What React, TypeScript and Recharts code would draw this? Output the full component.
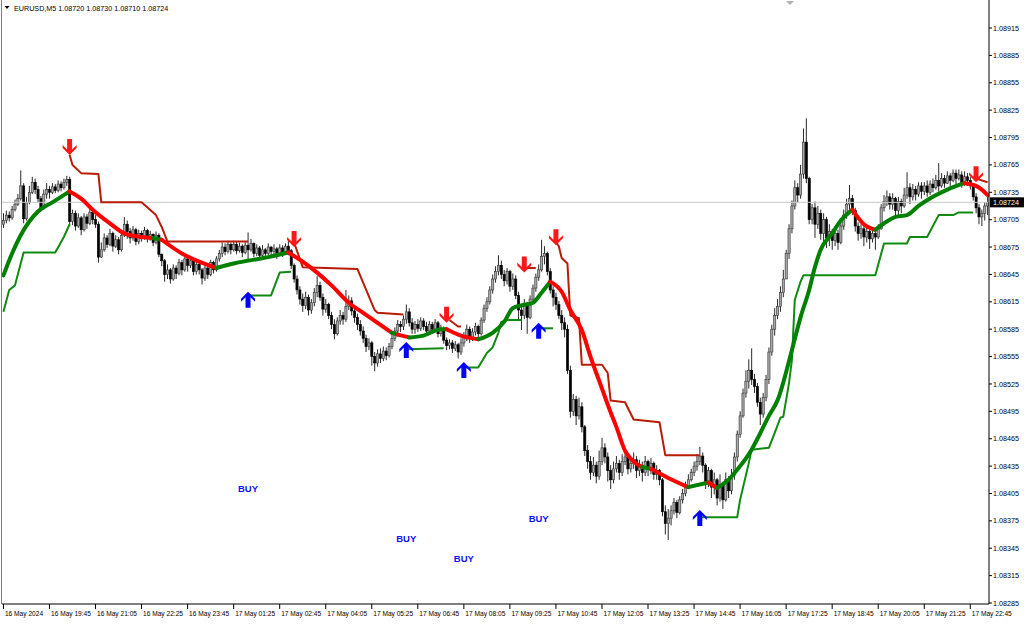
import React from 'react';
import { ComposedChart, Bar, Line, XAxis, YAxis, ReferenceLine, ReferenceDot } from 'recharts';

// prices in points above 1.08000 (1 pt = 0.00001)
const FIRST_OPEN = 700;
const CLOSE = [
  704, 710, 707, 716, 722, 728, 742, 706, 724, 735, 746, 738, 728, 718, 733, 738,
  735, 741, 737, 744, 740, 746, 749, 703, 712, 698, 707, 694, 708, 701, 713, 705,
  700, 664, 672, 685, 678, 690, 676, 683, 672, 688, 700, 692, 685, 694, 681, 690,
  686, 693, 684, 689, 680, 688, 667, 660, 645, 650, 640, 652, 646, 658, 650, 662,
  655, 660, 648, 656, 650, 641, 652, 645, 658, 650, 662, 668, 675, 670, 678, 672,
  678, 671, 676, 669, 677, 672, 679, 668, 674, 666, 672, 668, 675, 670, 673, 668,
  674, 669, 676, 671, 655, 640, 628, 618, 611, 620, 606, 614, 625, 633, 620, 607,
  612, 600, 590, 580, 594, 600, 596, 610, 616, 605, 598, 590, 583, 575, 566, 570,
  555, 548, 558, 553, 561, 556, 566, 575, 583, 590, 588, 596, 604, 592, 585, 590,
  586, 594, 588, 583, 590, 585, 592, 580, 586, 573, 567, 570, 564, 568, 560, 570,
  578, 585, 575, 582, 588, 580, 595, 608, 615, 628, 640, 648, 655, 645, 638, 648,
  632, 640, 622, 606, 600, 612, 598, 618, 630, 642, 650, 665, 668, 648, 628, 620,
  612, 600, 592, 585, 540, 495, 508, 490, 500, 478, 452, 440, 428, 436, 424, 440,
  455, 445, 430, 420, 432, 438, 428, 440, 445, 432, 438, 442, 430, 436, 428, 440,
  432, 438, 426, 430, 420, 385, 372, 378, 386, 395, 384, 398, 405, 412, 420, 428,
  435, 440, 446, 436, 418, 430, 412, 420, 400, 415, 398, 420, 408, 425, 445, 470,
  490, 515, 528, 540, 530, 522, 505, 492, 510, 530, 560, 585, 600, 610, 625, 640,
  668, 695, 720, 740, 732, 755, 790, 750, 705, 718, 700, 712, 690, 705, 685, 692,
  682, 690, 680, 698, 710, 722, 728, 715, 698, 690, 695, 686, 692, 684, 690, 686,
  695, 718, 725, 730, 722, 728, 715, 725, 720, 732, 740, 730, 738, 733, 742, 736,
  742, 735, 744, 740, 748, 742, 750, 745, 753, 748, 756, 750, 754, 746, 752, 748,
  742, 730, 718, 708, 712, 720, 724,
];
const HIGH = [
  712, 715, 714, 720, 727, 733, 759, 745, 730, 742, 752, 750, 742, 731, 738, 745,
  742, 745, 744, 748, 747, 750, 753, 752, 716, 715, 712, 709, 712, 711, 718, 716,
  710, 703, 680, 690, 688, 695, 692, 688, 686, 692, 708, 704, 696, 698, 696, 694,
  693, 697, 695, 693, 690, 692, 690, 668, 662, 656, 652, 656, 655, 662, 661, 666,
  664, 665, 662, 660, 658, 652, 656, 654, 661, 660, 665, 672, 680, 679, 682, 680,
  682, 681, 680, 678, 681, 691, 684, 680, 678, 676, 677, 674, 679, 676, 678, 675,
  678, 677, 679, 682, 673, 657, 644, 632, 624, 626, 623, 618, 630, 643, 637, 624,
  618, 614, 604, 596, 598, 606, 604, 628, 622, 620, 610, 602, 595, 588, 579, 575,
  572, 560, 563, 564, 566, 565, 570, 580, 587, 595, 594, 600, 612, 608, 597, 594,
  596, 598, 597, 593, 594, 593, 596, 594, 590, 588, 576, 574, 573, 572, 570, 575,
  582, 590, 588, 586, 592, 590, 598, 612, 620, 632, 645, 654, 666, 660, 650, 652,
  650, 646, 644, 626, 612, 618, 615, 622, 634, 646, 656, 683, 676, 670, 652, 632,
  625, 616, 606, 598, 590, 545, 514, 512, 510, 505, 480, 458, 446, 445, 440, 452,
  466, 460, 450, 436, 440, 446, 442, 448, 452, 448, 444, 450, 446, 442, 440, 446,
  442, 444, 440, 436, 432, 422, 392, 388, 392, 400, 398, 402, 410, 418, 426, 432,
  440, 448, 456, 450, 438, 434, 432, 428, 422, 426, 418, 428, 424, 432, 450, 474,
  495, 520, 540, 552, 564, 536, 526, 510, 515, 535, 565, 590, 608, 618, 632, 650,
  672, 700, 726, 748, 745, 765, 805, 816, 752, 722, 725, 720, 716, 712, 708, 700,
  695, 698, 694, 702, 716, 728, 743, 732, 718, 702, 700, 698, 700, 694, 696, 694,
  700, 722, 732, 737, 734, 734, 730, 730, 728, 740, 757, 745, 744, 742, 746, 746,
  746, 748, 748, 750, 754, 767, 756, 754, 758, 756, 760, 760, 760, 758, 758, 756,
  752, 745, 734, 722, 716, 724, 730,
];
const LOW = [
  696, 701, 703, 705, 714, 720, 726, 701, 704, 722, 733, 733, 724, 714, 716, 728,
  728, 733, 734, 735, 736, 738, 742, 698, 699, 693, 696, 688, 692, 695, 699, 700,
  696, 658, 663, 670, 674, 676, 670, 674, 667, 670, 686, 684, 679, 682, 677, 678,
  681, 683, 680, 682, 676, 678, 664, 654, 637, 640, 635, 638, 640, 644, 644, 648,
  648, 652, 644, 645, 645, 634, 638, 640, 643, 646, 648, 659, 664, 666, 668, 667,
  670, 667, 669, 664, 667, 661, 670, 664, 665, 661, 663, 662, 666, 664, 666, 662,
  666, 664, 667, 666, 651, 636, 623, 612, 604, 607, 600, 602, 610, 620, 616, 600,
  603, 596, 585, 574, 578, 590, 590, 593, 606, 600, 592, 584, 578, 570, 560, 562,
  545, 539, 544, 548, 550, 551, 554, 563, 572, 580, 582, 584, 591, 588, 580, 580,
  582, 583, 584, 578, 581, 580, 582, 576, 577, 569, 562, 563, 559, 561, 553, 557,
  566, 572, 570, 572, 578, 574, 578, 592, 604, 612, 624, 636, 644, 640, 632, 634,
  626, 628, 618, 595, 584, 596, 580, 596, 614, 626, 638, 648, 656, 644, 624, 610,
  606, 596, 584, 576, 536, 488, 490, 480, 486, 472, 446, 432, 420, 424, 416, 420,
  436, 438, 418, 410, 416, 428, 420, 424, 436, 426, 428, 432, 422, 424, 418, 424,
  424, 426, 420, 420, 414, 380, 360, 354, 370, 382, 378, 382, 394, 402, 410, 418,
  424, 430, 436, 428, 410, 412, 400, 404, 392, 396, 388, 396, 400, 404, 420, 440,
  466, 488, 510, 520, 524, 515, 500, 480, 488, 506, 525, 556, 578, 596, 604, 620,
  640, 662, 690, 716, 724, 728, 750, 745, 700, 700, 685, 695, 683, 680, 674, 676,
  672, 676, 672, 678, 694, 706, 716, 710, 692, 682, 684, 676, 680, 673, 680, 672,
  684, 694, 714, 720, 716, 716, 708, 710, 712, 718, 728, 722, 726, 726, 730, 728,
  732, 730, 732, 735, 738, 736, 740, 740, 744, 742, 746, 744, 748, 740, 742, 742,
  738, 726, 712, 700, 698, 704, 710,
];

const TIME_LABELS = [
  '16 May 2024', '16 May 19:45', '16 May 21:05', '16 May 22:25', '16 May 23:45',
  '17 May 01:25', '17 May 02:45', '17 May 04:05', '17 May 05:25', '17 May 06:45',
  '17 May 08:05', '17 May 09:25', '17 May 10:45', '17 May 12:05', '17 May 13:25',
  '17 May 14:45', '17 May 16:05', '17 May 17:25', '17 May 18:45', '17 May 20:05',
  '17 May 21:25', '17 May 22:45',
];
const TIME_TICKS = TIME_LABELS.map((_, k) => k * 16);

const PRICE_TICKS = [
  285, 315, 345, 375, 405, 435, 465, 495, 525, 555, 585,
  615, 645, 675, 705, 735, 765, 795, 825, 855, 885, 915,
];
const LAST_PRICE = 724;

// thick trend line, [bar, price] knots, split where colour changes
const MA_UP_1 = [[0, 644], [3, 668], [6, 688], [12, 714], [17, 724], [23, 736]];
const MA_DN_1 = [[23, 736], [27, 728], [31, 716], [37, 701], [42, 690], [48, 686], [52, 685]];
const MA_UP_2 = [[52, 685], [55, 683]];
const MA_DN_2 = [[55, 683], [62, 668], [68, 659], [74, 652]];
const MA_UP_3 = [[74, 652], [80, 657], [92, 664], [99, 669]];
const MA_DN_3 = [[99, 669], [104, 659], [109, 647], [114, 633], [120, 614], [125, 603], [130, 592], [135, 581]];
const MA_UP_4 = [[135, 581], [137, 579]];
const MA_DN_4 = [[137, 579], [141, 576]];
const MA_UP_5 = [[141, 576], [146, 578], [152, 585], [154, 585]];
const MA_DN_5 = [[154, 585], [159, 578], [165, 574]];
const MA_UP_6 = [[165, 574], [170, 581], [174, 593], [177, 608], [180, 611], [184, 614], [187, 625], [190, 637]];
const MA_DN_6 = [[190, 637], [194, 626], [197, 606], [201, 584], [204, 555], [208, 520], [211, 494], [213, 478], [216, 452], [219, 440], [222, 434]];
const MA_UP_7 = [[222, 434], [225, 432]];
const MA_DN_7 = [[225, 432], [231, 422], [238, 412]];
const MA_UP_8 = [[238, 412], [245, 417]];
const MA_DN_8 = [[245, 417], [248, 411]];
const MA_UP_9 = [[248, 411], [252, 420], [255, 431], [260, 453], [263, 471], [266, 490], [269, 507], [274, 562], [277, 598], [280, 628], [282, 653], [284, 672], [288, 690], [291, 704], [295, 716]];
const MA_DN_9 = [[295, 716], [299, 700], [303, 694]];
const MA_UP_10 = [[303, 694], [307, 703], [310, 708], [314, 710], [318, 720], [323, 730], [328, 738], [334, 745]];
const MA_DN_10 = [[334, 745], [338, 742], [340, 738], [342, 732]];

// upper trailing stop (sell phases)
const STOP_DN_1 = [[23, 776], [24, 765], [27, 756], [33, 755], [34, 724], [48, 724], [53, 710], [55, 697], [57, 681], [85, 681]];
const STOP_DN_2 = [[101, 680], [104, 653], [123, 651], [125, 636], [129, 606], [130, 603], [139, 601]];
const STOP_DN_3 = [[155, 595], [158, 588], [159, 588]];
const STOP_DN_4 = [[182, 652], [185, 652]];
const STOP_DN_5 = [[192, 680], [193, 676], [194, 663], [196, 657], [197, 600], [200, 597], [201, 546], [208, 546], [210, 537], [211, 507], [216, 505], [219, 486], [228, 483], [230, 447], [242, 447]];
const STOP_DN_6 = [[338, 750], [342, 746]];

// lower trailing stop (buy phases)
const STOP_UP_1 = [[0, 604], [2, 628], [4, 633], [7, 669], [18, 669], [21, 686], [23, 700]];
const STOP_UP_2 = [[85, 622], [93, 622], [96, 647], [100, 648]];
const STOP_UP_3 = [[140, 563], [153, 564]];
const STOP_UP_4 = [[160, 543], [165, 543], [168, 559], [170, 565], [172, 581], [173, 593], [175, 595], [180, 595]];
const STOP_UP_5 = [[186, 586], [191, 586]];
const STOP_UP_6 = [[242, 379], [255, 379], [256, 398], [259, 438], [260, 453], [266, 455], [268, 471], [270, 488], [271, 489], [273, 526], [274, 551], [275, 617], [277, 637], [278, 644], [303, 644], [306, 679], [314, 679], [315, 686], [321, 686], [325, 710], [330, 710], [332, 713], [337, 713]];

const SELL_BARS = [23, 101, 154, 181, 192, 338];
const SELL_TIPS = [776, 675, 592, 647, 677, 746];
const BUY_BARS = [85, 140, 160, 186, 242];
const BUY_TIPS = [626, 571, 549, 592, 387];
const BUY_TEXT_BARS = [85, 140, 160, 186];
const BUY_TEXT_PRICES = [411, 356, 334, 378];

const GREEN = '#008000';
const RED = '#ff0000';
const STOP_RED = '#b81c08';
const STOP_GREEN = '#118a11';
const FONT = "'Liberation Sans', Arial, sans-serif";

const MA_SEGMENTS = [
  { pts: MA_UP_1, color: GREEN }, { pts: MA_DN_1, color: RED },
  { pts: MA_UP_2, color: GREEN }, { pts: MA_DN_2, color: RED },
  { pts: MA_UP_3, color: GREEN }, { pts: MA_DN_3, color: RED },
  { pts: MA_UP_4, color: GREEN }, { pts: MA_DN_4, color: RED },
  { pts: MA_UP_5, color: GREEN }, { pts: MA_DN_5, color: RED },
  { pts: MA_UP_6, color: GREEN }, { pts: MA_DN_6, color: RED },
  { pts: MA_UP_7, color: GREEN }, { pts: MA_DN_7, color: RED },
  { pts: MA_UP_8, color: GREEN }, { pts: MA_DN_8, color: RED },
  { pts: MA_UP_9, color: GREEN }, { pts: MA_DN_9, color: RED },
  { pts: MA_UP_10, color: GREEN }, { pts: MA_DN_10, color: RED },
];
const STOP_SEGMENTS = [
  ...[STOP_DN_1, STOP_DN_2, STOP_DN_3, STOP_DN_4, STOP_DN_5, STOP_DN_6].map((pts) => ({ pts, color: STOP_RED })),
  ...[STOP_UP_1, STOP_UP_2, STOP_UP_3, STOP_UP_4, STOP_UP_5, STOP_UP_6].map((pts) => ({ pts, color: STOP_GREEN })),
];

const rows = CLOSE.map((c, i) => {
  const o = i === 0 ? FIRST_OPEN : CLOSE[i - 1];
  return { i, o, c, h: Math.max(HIGH[i], o, c), l: Math.min(LOW[i], o, c) };
});

function Candle(props: any) {
  const { x, y, width, height, payload } = props;
  if (!payload || !isFinite(y) || !isFinite(height)) return null;
  const { o, h, l, c } = payload;
  const cx = x + width / 2;
  const py = (v: number) => y + ((h - v) / (h - l || 1)) * height;
  const top = py(Math.max(o, c));
  const bot = py(Math.min(o, c));
  const bull = c >= o;
  return (
    <g>
      <line x1={cx} x2={cx} y1={y} y2={y + height} stroke="#111" strokeWidth={0.9} />
      <rect
        x={cx - 1.1}
        y={top}
        width={2.2}
        height={Math.max(bot - top, 0.8)}
        fill={bull ? '#a8a8a8' : '#000'}
        stroke={bull ? '#333' : '#000'}
        strokeWidth={0.6}
      />
    </g>
  );
}

function DownArrow({ cx, cy }: any) {
  // tip at (cx, cy)
  const d = `M${cx},${cy} L${cx + 7},${cy - 7} L${cx + 7},${cy - 10} L${cx + 2.5},${cy - 5.5} L${cx + 2.5},${cy - 16} L${cx - 2.5},${cy - 16} L${cx - 2.5},${cy - 5.5} L${cx - 7},${cy - 10} L${cx - 7},${cy - 7} Z`;
  return <path d={d} fill="#ff1818" />;
}

function UpArrow({ cx, cy }: any) {
  const d = `M${cx},${cy} L${cx + 7},${cy + 7} L${cx + 7},${cy + 10} L${cx + 2.5},${cy + 5.5} L${cx + 2.5},${cy + 16} L${cx - 2.5},${cy + 16} L${cx - 2.5},${cy + 5.5} L${cx - 7},${cy + 10} L${cx - 7},${cy + 7} Z`;
  return <path d={d} fill="#0000ff" />;
}

function BuyText({ cx, cy }: any) {
  return (
    <text x={cx} y={cy} textAnchor="middle" dominantBaseline="central" fontSize={9.5} fontWeight="bold"
      fill="#1010ff" fontFamily="'Liberation Sans Narrow', 'Liberation Sans', Arial, sans-serif">
      BUY
    </text>
  );
}

function TimeTick({ x, y, payload }: any) {
  const k = TIME_TICKS.indexOf(payload.value);
  return (
    <text x={x + 1.5} y={y} dy={6} fontSize={6.6} fill="#000" textAnchor="start" fontFamily={FONT}>
      {TIME_LABELS[k]}
    </text>
  );
}

function PriceTag({ viewBox }: any) {
  if (!viewBox) return null;
  const x = viewBox.x + viewBox.width + 1;
  const y = viewBox.y;
  return (
    <g>
      <rect x={x} y={y - 5} width={34} height={10} fill="#000" />
      <text x={x + 3} y={y} dominantBaseline="central" fontSize={7.2} fill="#fff" fontFamily={FONT}>
        {(1.08 + LAST_PRICE / 1e5).toFixed(5)}
      </text>
    </g>
  );
}

export default function App() {
  return (
    <div style={{ position: 'absolute', left: 0, top: 0, width: 1024, height: 624, background: '#fff', overflow: 'hidden' }}>
      <ComposedChart
        width={1024}
        height={624}
        data={rows}
        margin={{ top: 0, right: 0, bottom: 0, left: 2 }}
        barCategoryGap={0}
      >
        <XAxis
          dataKey="i"
          type="category"
          ticks={TIME_TICKS}
          interval={0}
          height={20}
          tick={<TimeTick />}
          tickSize={5}
          tickMargin={1}
          axisLine={{ stroke: '#000' }}
          tickLine={{ stroke: '#000' }}
        />
        <YAxis
          orientation="right"
          type="number"
          domain={[283.9, 945.7]}
          allowDataOverflow
          ticks={PRICE_TICKS}
          interval={0}
          width={35}
          tickSize={3}
          tickMargin={1}
          tickFormatter={(v) => (1.08 + v / 1e5).toFixed(5)}
          tick={{ fontSize: 7.2, fill: '#000', fontFamily: FONT }}
          axisLine={{ stroke: '#000' }}
          tickLine={{ stroke: '#000' }}
        />
        <ReferenceLine y={LAST_PRICE} stroke="#c8c8c8" strokeWidth={1} label={<PriceTag />} />
        <Bar dataKey={(d: any) => [d.l, d.h]} shape={<Candle />} isAnimationActive={false} />
        {STOP_SEGMENTS.map((s, k) => {
          const m = new Map(s.pts.map((p) => [p[0], p[1]]));
          return (
            <Line key={`st${k}`} type="linear" dataKey={(d: any) => m.get(d.i) ?? null} connectNulls
              stroke={s.color} strokeWidth={2} dot={false} activeDot={false} isAnimationActive={false}
              strokeLinejoin="round" />
          );
        })}
        {MA_SEGMENTS.map((s, k) => {
          const m = new Map(s.pts.map((p) => [p[0], p[1]]));
          return (
            <Line key={`ma${k}`} type="monotone" dataKey={(d: any) => m.get(d.i) ?? null} connectNulls
              stroke={s.color} strokeWidth={4} dot={false} activeDot={false} isAnimationActive={false}
              strokeLinejoin="round" strokeLinecap="round" />
          );
        })}
        {SELL_BARS.map((b, k) => (
          <ReferenceDot key={`s${k}`} x={b} y={SELL_TIPS[k]} shape={<DownArrow />} />
        ))}
        {BUY_BARS.map((b, k) => (
          <ReferenceDot key={`b${k}`} x={b} y={BUY_TIPS[k]} shape={<UpArrow />} />
        ))}
        {BUY_TEXT_BARS.map((b, k) => (
          <ReferenceDot key={`t${k}`} x={b} y={BUY_TEXT_PRICES[k]} shape={<BuyText />} />
        ))}
      </ComposedChart>
      <div style={{ position: 'absolute', left: 1, top: 0, width: 1, height: 604, background: '#808080' }} />
      <svg style={{ position: 'absolute', left: 0, top: 0 }} width={1024} height={14}>
        <path d="M4.5,6 L9.5,6 L7,9 Z" fill="#000" />
        <text x={14} y={10.5} fontSize={7.2} fill="#000" fontFamily={FONT}>
          EURUSD,M5  1.08720 1.08730 1.08710 1.08724
        </text>
        <path d="M786,1 L794,1 L790,5 Z" fill="#b0b0b0" />
      </svg>
    </div>
  );
}
